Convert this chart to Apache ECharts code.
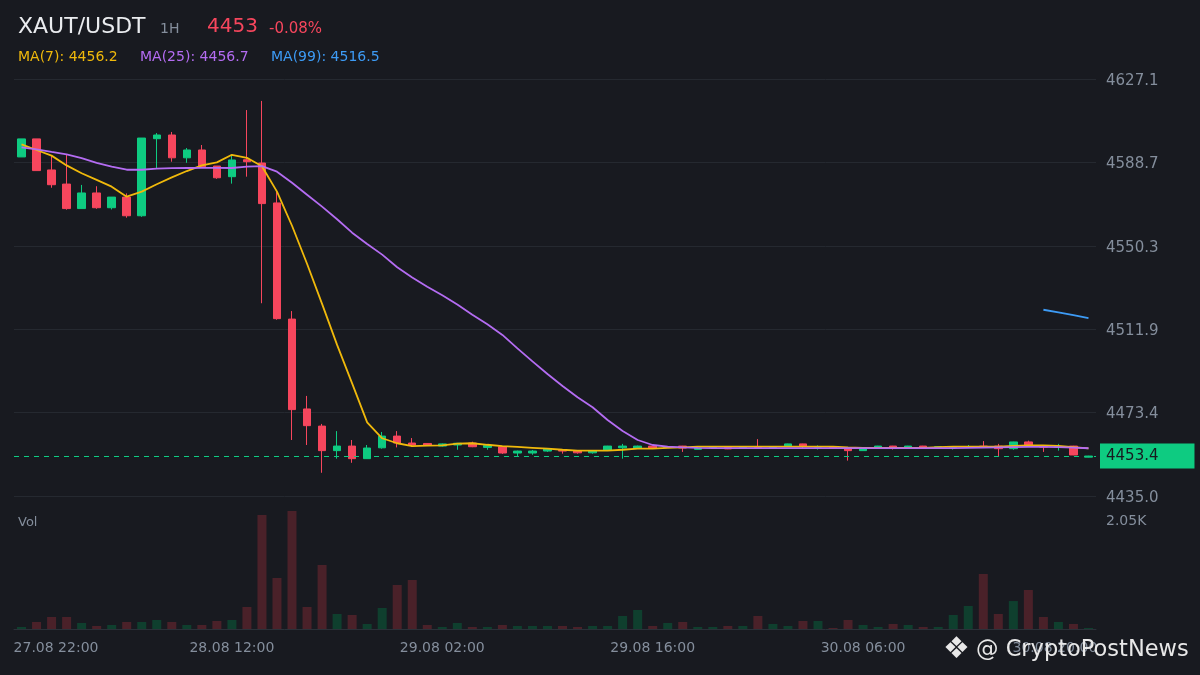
<!DOCTYPE html>
<html><head><meta charset="utf-8">
<script src="https://cdn.jsdelivr.net/npm/echarts@6/dist/echarts.min.js"></script>
<style>html,body{margin:0;padding:0;background:#181a20;}#c{width:1200px;height:675px;}</style>
</head><body><div id="c"></div>
<script>
const categories = [
'27.08 22:00','27.08 23:00',
'28.08 00:00','28.08 01:00','28.08 02:00','28.08 03:00','28.08 04:00','28.08 05:00','28.08 06:00','28.08 07:00','28.08 08:00','28.08 09:00','28.08 10:00','28.08 11:00',
'28.08 12:00','28.08 13:00','28.08 14:00','28.08 15:00','28.08 16:00','28.08 17:00','28.08 18:00','28.08 19:00','28.08 20:00','28.08 21:00','28.08 22:00','28.08 23:00',
'29.08 00:00','29.08 01:00','29.08 02:00','29.08 03:00','29.08 04:00','29.08 05:00','29.08 06:00','29.08 07:00','29.08 08:00','29.08 09:00','29.08 10:00','29.08 11:00',
'29.08 12:00','29.08 13:00','29.08 14:00','29.08 15:00','29.08 16:00','29.08 17:00','29.08 18:00','29.08 19:00','29.08 20:00','29.08 21:00','29.08 22:00','29.08 23:00',
'30.08 00:00','30.08 01:00','30.08 02:00','30.08 03:00','30.08 04:00','30.08 05:00','30.08 06:00','30.08 07:00','30.08 08:00','30.08 09:00','30.08 10:00','30.08 11:00',
'30.08 12:00','30.08 13:00','30.08 14:00','30.08 15:00','30.08 16:00','30.08 17:00','30.08 18:00','30.08 19:00','30.08 20:00','30.08 21:00'];

const openPrices = [4591.2,4599.5,4585.2,4578.7,4567.4,4574.6,4567.8,4572.7,4564.1,4599.6,
4601.3,4590.8,4594.4,4587.0,4582.1,4589.9,4588.4,4570.0,4516.5,4475.1,
4467.2,4455.9,4458.0,4452.2,4457.2,4462.6,4459.4,4459.2,4458.0,4458.5,
4459.4,4457.4,4457.7,4454.8,4454.8,4455.7,4456.0,4455.9,4454.9,4456.2,
4457.2,4457.1,4458.0,4457.3,4458.0,4456.5,4457.4,4457.4,4457.0,4457.6,
4457.3,4458.0,4459.0,4457.5,4457.6,4457.2,4455.9,4457.3,4458.0,4457.4,
4458.0,4457.5,4457.3,4457.6,4458.0,4458.0,4456.8,4459.9,4457.8,4457.5,
4458.0,4452.9];
const closePrices = [4599.5,4584.9,4578.4,4567.4,4574.6,4567.8,4572.7,4564.1,4599.9,4601.3,
4590.8,4594.4,4586.7,4581.6,4589.8,4589.0,4569.7,4516.7,4474.8,4467.4,
4455.9,4458.0,4452.2,4457.1,4462.6,4459.4,4458.5,4458.4,4459.0,4459.3,
4457.7,4458.3,4454.8,4455.7,4455.7,4456.7,4455.7,4454.9,4455.9,4458.0,
4458.0,4458.0,4457.1,4457.7,4457.1,4457.1,4457.6,4456.7,4457.4,4457.4,
4457.6,4459.0,4458.0,4457.8,4457.4,4455.9,4456.7,4458.0,4457.4,4458.0,
4457.4,4457.7,4457.7,4457.8,4457.7,4456.8,4459.9,4458.0,4457.5,4457.8,
4453.9,4453.4];
const lowPrices = [4591.2,4584.9,4577.0,4566.9,4567.4,4567.3,4567.0,4563.2,4563.6,4586.0,
4589.0,4588.5,4586.5,4581.1,4578.9,4582.1,4523.8,4516.2,4460.8,4458.5,
4445.7,4452.2,4450.3,4452.2,4456.8,4457.4,4457.6,4458.2,4457.8,4456.3,
4457.5,4456.3,4454.4,4453.4,4454.0,4455.3,4454.5,4454.5,4454.5,4456.0,
4452.2,4457.0,4457.0,4457.2,4455.3,4456.4,4457.3,4456.6,4456.7,4457.3,
4457.2,4457.9,4456.7,4456.4,4457.3,4451.3,4455.8,4457.2,4456.4,4457.3,
4457.3,4457.4,4456.4,4457.5,4457.6,4453.4,4456.3,4457.9,4455.3,4455.9,
4453.8,4452.8];
const highPrices = [4599.5,4599.5,4592.1,4592.1,4578.3,4577.7,4572.7,4574.4,4599.9,4602.2,
4602.7,4595.3,4596.7,4587.0,4592.0,4612.8,4617.0,4576.0,4520.2,4481.1,
4468.2,4464.9,4460.8,4458.5,4464.5,4464.9,4461.7,4459.4,4459.2,4459.4,
4460.0,4458.5,4457.9,4455.9,4456.2,4456.9,4456.2,4456.0,4456.0,4458.1,
4459.0,4458.2,4458.1,4457.8,4458.1,4457.2,4457.7,4457.5,4457.5,4461.2,
4457.7,4459.1,4459.1,4458.3,4457.7,4457.3,4456.8,4458.1,4458.1,4458.1,
4458.1,4457.8,4457.8,4458.5,4460.3,4459.0,4460.0,4460.5,4457.9,4459.0,
4458.1,4453.5];
const volumes = [38,133,228,228,114,57,76,133,133,171,
133,76,76,152,171,418,2164,968,2240,418,
1215,285,266,95,399,835,930,76,38,114,
38,38,76,57,57,57,57,38,57,57,
247,361,57,114,133,38,38,57,57,247,
95,57,152,152,19,171,76,38,95,76,
38,38,266,437,1044,285,531,740,228,133,
95,19];
const ma7 = [4597.0,4594.4,4591.8,4587.3,4583.7,4580.6,4577.5,4572.9,4575.2,4578.6,
4581.8,4584.7,4587.3,4588.7,4592.2,4590.8,4586.9,4575.2,4559.5,4542.0,
4523.5,4504.6,4486.9,4468.9,4461.6,4459.3,4458.0,4458.2,4458.3,4459.1,
4459.3,4458.6,4458.0,4457.6,4457.2,4456.8,4456.3,4455.9,4455.9,4455.9,
4456.3,4456.8,4456.8,4457.2,4457.4,4457.7,4457.7,4457.7,4457.7,4457.7,
4457.7,4457.7,4457.7,4457.7,4457.7,4457.4,4457.2,4457.2,4457.2,4457.2,
4457.2,4457.5,4457.7,4457.7,4457.7,4457.7,4458.1,4458.3,4458.3,4458.1,
4457.5,4456.9];
const ma25 = [4595.6,4594.7,4593.5,4592.4,4590.6,4588.5,4586.7,4585.3,4585.3,4585.8,
4586.0,4586.1,4586.2,4586.2,4586.1,4586.7,4587.0,4584.4,4579.3,4573.8,
4568.3,4562.5,4556.3,4551.1,4546.2,4540.4,4535.7,4531.4,4527.5,4523.2,
4518.5,4514.1,4509.2,4503.0,4497.0,4491.2,4485.7,4480.5,4475.9,4470.0,
4464.9,4460.8,4458.5,4457.7,4457.4,4457.2,4457.1,4457.1,4457.1,4457.1,
4457.1,4457.1,4457.1,4457.1,4457.1,4457.1,4457.1,4457.1,4457.1,4457.1,
4457.1,4457.1,4457.1,4457.2,4457.3,4457.4,4457.5,4457.6,4457.6,4457.5,
4457.3,4457.0];
const ma99 = [null,null,null,null,null,null,null,null,null,null,
null,null,null,null,null,null,null,null,null,null,
null,null,null,null,null,null,null,null,null,null,
null,null,null,null,null,null,null,null,null,null,
null,null,null,null,null,null,null,null,null,null,
null,null,null,null,null,null,null,null,null,null,
null,null,null,null,null,null,null,null,4520.8,4519.6,
4518.3,4516.9];
const priceTickLabels = ['4435.0','4473.4','4511.9','4550.3','4588.7','4627.1'];
const priceMin = 4435.0, priceMax = 4627.1;
const volumeTickValue = 2050, volumeTickLabel = '2.05K', volumeAxisMax = 2400;
const xLabelIndices = [0,14,28,42,56,70];
const lastPrice = 4453.4;
const headerSymbol = 'XAUT/USDT', headerInterval = '1H', headerPrice = '4453', headerChange = '-0.08%';
const maLegend = ['MA(7): 4456.2','MA(25): 4456.7','MA(99): 4516.5'];

const UP = '#0ecb81', DOWN = '#f6465d', VOL_UP = '#0f3f2e', VOL_DOWN = '#4a2129';
const GRAY = '#848e9c', FONT = 'DejaVu Sans';
const C7 = '#f0b90b', C25 = '#b46cf2', C99 = '#3d9bf5';

const candleData = categories.map((_, i) => [openPrices[i], closePrices[i], lowPrices[i], highPrices[i]]);
const volData = volumes.map((v, i) => ({ value: v, itemStyle: { color: closePrices[i] >= openPrices[i] ? VOL_UP : VOL_DOWN } }));

const chart = echarts.init(document.getElementById('c'), null, { renderer: 'canvas' });
chart.setOption({
  backgroundColor: '#181a20',
  animation: false,
  textStyle: { fontFamily: FONT },
  grid: [
    { left: 14, right: 104, top: 79, height: 417 },
    { left: 14, right: 104, top: 502.6, height: 126.4 }
  ],
  xAxis: [
    { type: 'category', data: categories, gridIndex: 0, axisLine: { show: false }, axisTick: { show: false }, axisLabel: { show: false }, splitLine: { show: false } },
    { type: 'category', data: categories, gridIndex: 1, axisLine: { lineStyle: { color: '#2b3139' } }, axisTick: { show: false }, splitLine: { show: false },
      axisLabel: {
        color: GRAY, fontSize: 14, fontFamily: FONT, margin: 12,
        interval: (i) => xLabelIndices.indexOf(i) >= 0,
        formatter: (val, i) => i === 0 ? '{l|' + val + '}' : (i === 70 ? '{r|' + val + '}' : val),
        rich: {
          l: { color: GRAY, fontSize: 14, fontFamily: FONT, padding: [0, 0, 0, 69] },
          r: { color: GRAY, fontSize: 14, fontFamily: FONT, padding: [0, 37, 0, 0] }
        }
      } }
  ],
  yAxis: [
    { type: 'value', gridIndex: 0, min: priceMin, max: priceMax, show: false, splitLine: { show: false } },
    { type: 'value', gridIndex: 0, min: 0, max: 5, interval: 1, position: 'right',
      axisLine: { show: false }, axisTick: { show: false },
      axisLabel: { formatter: (v) => '{p|' + priceTickLabels[v] + '}', color: GRAY, fontSize: 15, fontFamily: FONT, margin: 10,
        rich: { p: { color: GRAY, fontSize: 15, fontFamily: FONT, padding: [4, 0, 0, 0] } } },
      splitLine: { show: true, lineStyle: { color: '#252930', width: 1 } } },
    { type: 'value', gridIndex: 1, min: 0, max: volumeAxisMax, interval: volumeTickValue, position: 'right',
      axisLine: { show: false }, axisTick: { show: false }, splitLine: { show: false },
      axisLabel: { formatter: (v) => v === volumeTickValue ? volumeTickLabel : '', color: GRAY, fontSize: 14, fontFamily: FONT, margin: 10 } }
  ],
  series: [
    { type: 'candlestick', xAxisIndex: 0, yAxisIndex: 0, data: candleData, barWidth: 8,
      itemStyle: { color: UP, color0: DOWN, borderColor: UP, borderColor0: DOWN, borderWidth: 1 },
      markLine: {
        silent: true, symbol: ['none', 'none'],
        lineStyle: { color: UP, type: [5, 5], width: 1 },
        label: { show: true, position: 'end', distance: 4, formatter: lastPrice.toFixed(1),
          backgroundColor: UP, color: '#181a20', fontSize: 15, fontFamily: FONT, padding: [5, 36, 5, 6] },
        data: [{ yAxis: lastPrice }]
      } },
    { type: 'line', name: 'MA7', xAxisIndex: 0, yAxisIndex: 0, data: ma7, symbol: 'none', lineStyle: { color: C7, width: 1.8 }, z: 3 },
    { type: 'line', name: 'MA25', xAxisIndex: 0, yAxisIndex: 0, data: ma25, symbol: 'none', lineStyle: { color: C25, width: 1.8 }, z: 3 },
    { type: 'line', name: 'MA99', xAxisIndex: 0, yAxisIndex: 0, data: ma99, symbol: 'none', lineStyle: { color: C99, width: 1.8 }, z: 3 },
    { type: 'bar', xAxisIndex: 1, yAxisIndex: 2, data: volData, barWidth: 9 }
  ],
  graphic: [
    { type: 'text', x: 18, y: 27, style: { text: headerSymbol, fill: '#eaecef', font: '22px "DejaVu Sans"', verticalAlign: 'middle' } },
    { type: 'text', x: 160, y: 29.5, style: { text: headerInterval, fill: GRAY, font: '14px "DejaVu Sans"', verticalAlign: 'middle' } },
    { type: 'text', x: 207, y: 27, style: { text: headerPrice, fill: DOWN, font: '20px "DejaVu Sans"', verticalAlign: 'middle' } },
    { type: 'text', x: 269, y: 29, style: { text: headerChange, fill: DOWN, font: '15px "DejaVu Sans"', verticalAlign: 'middle' } },
    { type: 'text', x: 18, y: 57, style: { text: maLegend[0], fill: C7, font: '14px "DejaVu Sans"', verticalAlign: 'middle' } },
    { type: 'text', x: 140, y: 57, style: { text: maLegend[1], fill: C25, font: '14px "DejaVu Sans"', verticalAlign: 'middle' } },
    { type: 'text', x: 271, y: 57, style: { text: maLegend[2], fill: C99, font: '14px "DejaVu Sans"', verticalAlign: 'middle' } },
    { type: 'text', x: 18, y: 522.5, style: { text: 'Vol', fill: GRAY, font: '13px "DejaVu Sans"', verticalAlign: 'middle' } },
    { type: 'text', x: 943, y: 650, z: 100, style: { text: '\u2756', fill: '#e8e8e8', font: '30px "DejaVu Sans"', verticalAlign: 'middle', shadowBlur: 4, shadowColor: 'rgba(0,0,0,0.6)' } },
    { type: 'text', x: 976, y: 650, z: 100, style: { text: '@ CryptoPostNews', fill: '#e8e8e8', font: '22.5px "DejaVu Sans"', verticalAlign: 'middle', shadowBlur: 4, shadowColor: 'rgba(0,0,0,0.6)' } }
  ]
});
</script></body></html>
